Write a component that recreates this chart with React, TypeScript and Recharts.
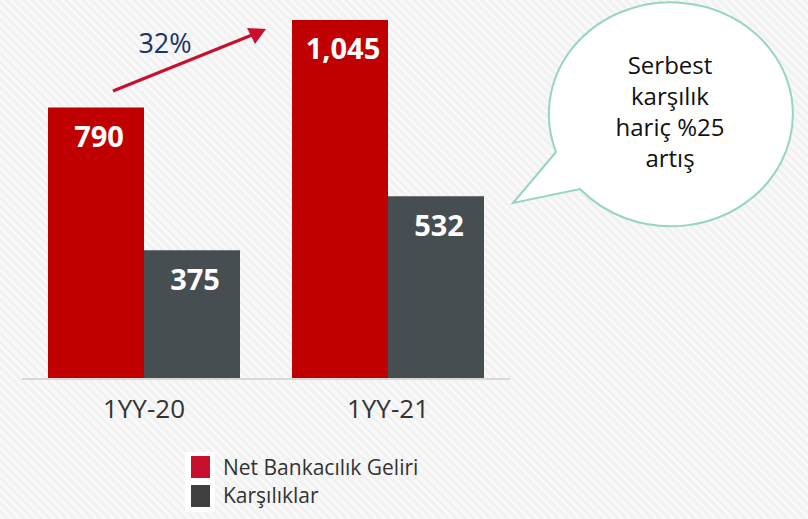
import React from "react";
import { BarChart, Bar, XAxis, YAxis, LabelList, Legend } from "recharts";

// values
const periods = ["1YY-20", "1YY-21"];
const netBankingIncome = [790, 1045];
const provisions = [375, 532];
const seriesNames = ["Net Bankacılık Geliri", "Karşılıklar"];
const growthLabel = "32%";
const bubbleLines = ["Serbest", "karşılık", "hariç %25", "artış"];

const data = periods.map((p, i) => ({
  period: p,
  nbg: netBankingIncome[i],
  prov: provisions[i],
}));

const FONT = "'Open Sans', 'Noto Sans', sans-serif";
const BAR_RED = "#c00000";
const BAR_GRAY = "#464e51";

function ValueLabel(props: any) {
  const { x, y, width, value } = props;
  return (
    <text
      x={x + width / 2 + 3}
      y={y + 28}
      textAnchor="middle"
      dominantBaseline="central"
      fill="#ffffff"
      fontFamily={FONT}
      fontWeight={700}
      fontSize={29}
    >
      {Number(value).toLocaleString("en-US")}
    </text>
  );
}

function LegendBox() {
  const swatches = ["#c8102e", "#404040"];
  return (
    <div style={{ position: "relative", width: 260, height: 62, fontFamily: FONT }}>
      <div style={{ position: "absolute", left: 0, top: 0, width: 30, height: 60, background: "#fff" }} />
      {seriesNames.map((name, i) => (
        <React.Fragment key={name}>
          <div
            style={{
              position: "absolute",
              left: 6,
              top: 4 + i * 29,
              width: 19,
              height: 22,
              background: swatches[i],
            }}
          />
          <div
            style={{
              position: "absolute",
              left: 38,
              top: 1 + i * 28,
              fontSize: 21,
              color: "#333",
              lineHeight: "28px",
              whiteSpace: "nowrap",
            }}
          >
            {name}
          </div>
        </React.Fragment>
      ))}
    </div>
  );
}

export default function App() {
  return (
    <div style={{ position: "absolute", left: 0, top: 0, width: 808, height: 519, overflow: "hidden" }}>
      {/* striped backdrop */}
      <svg width={808} height={519} style={{ position: "absolute", left: 0, top: 0 }}>
        <defs>
          <pattern id="stripes" width={6} height={6} patternUnits="userSpaceOnUse" patternTransform="rotate(-45)">
            <rect width={6} height={6} fill="#f1f1f1" />
            <rect width={3} height={6} fill="#f9f9f9" />
          </pattern>
        </defs>
        <rect width={808} height={519} fill="url(#stripes)" />
      </svg>

      <div style={{ position: "absolute", left: 0, top: 0 }}>
        <BarChart
          width={808}
          height={519}
          data={data}
          margin={{ top: 1, right: 298, bottom: 80, left: 22 }}
          barCategoryGap={26}
          barGap={0}
        >
          <XAxis
            dataKey="period"
            height={60}
            axisLine={{ stroke: "#d9d9d9", strokeWidth: 2 }}
            tickLine={false}
            tickSize={0}
            tickMargin={21}
            tick={{ fontSize: 26, fill: "#333", fontFamily: FONT }}
          />
          <YAxis hide domain={[0, 1100]} />
          <Legend
            layout="vertical"
            align="center"
            verticalAlign="middle"
            content={() => <LegendBox />}
            wrapperStyle={{ left: 185, top: 452, width: 260, height: 62 }}
          />
          <Bar dataKey="nbg" name={seriesNames[0]} fill={BAR_RED} isAnimationActive={false}>
            <LabelList dataKey="nbg" content={<ValueLabel />} />
          </Bar>
          <Bar dataKey="prov" name={seriesNames[1]} fill={BAR_GRAY} isAnimationActive={false}>
            <LabelList dataKey="prov" content={<ValueLabel />} />
          </Bar>
        </BarChart>
      </div>

      {/* annotations: growth arrow and speech bubble */}
      <svg width={808} height={519} style={{ position: "absolute", left: 0, top: 0, pointerEvents: "none" }}>
        <line x1={113} y1={91} x2={252} y2={35} stroke="#c8102e" strokeWidth={3} />
        <polygon points="266,29 247,28 255,44" fill="#c8102e" />
        <text x={165} y={53} textAnchor="middle" fontFamily={FONT} fontSize={27} fill="#1c3466">
          {growthLabel}
        </text>

        <path
          d="M 556 152 L 513 203 L 580 189 A 122 112 0 1 0 556 152 Z"
          fill="#ffffff"
          stroke="#96d4c8"
          strokeWidth={2}
        />
        {bubbleLines.map((line, i) => (
          <text
            key={line}
            x={670}
            y={74 + i * 31}
            textAnchor="middle"
            fontFamily={FONT}
            fontSize={24}
            fill="#111"
          >
            {line}
          </text>
        ))}
      </svg>
    </div>
  );
}
